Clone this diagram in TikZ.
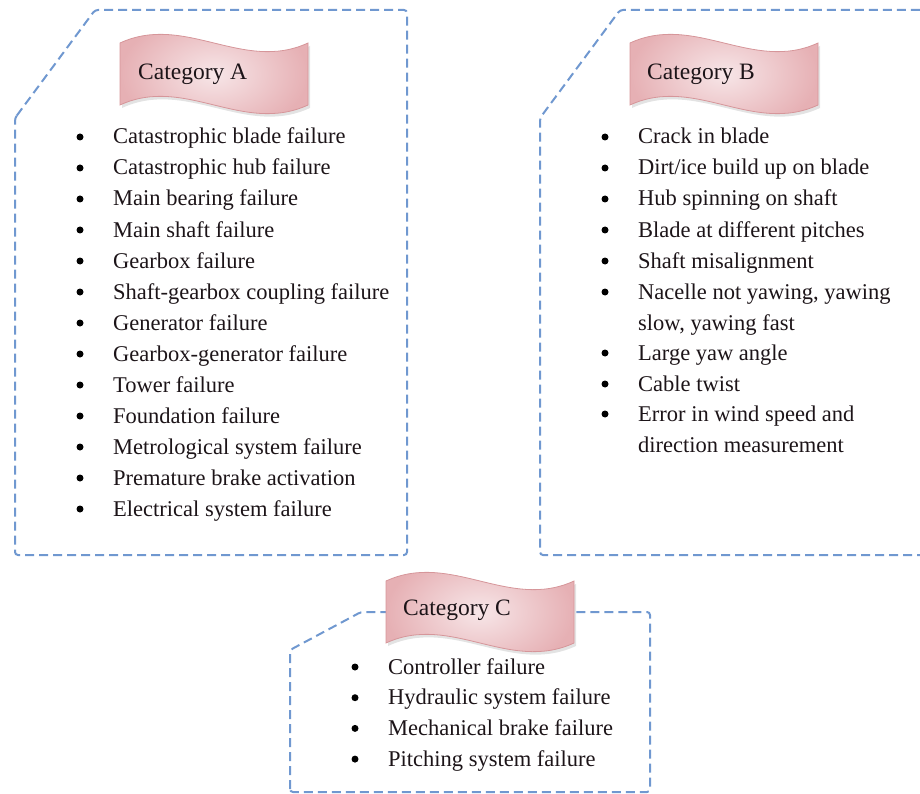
\documentclass[tikz,border=0pt]{standalone}
\usepackage{fontspec}
\setmainfont{Liberation Serif}
\usetikzlibrary{shadows}
\definecolor{framecol}{RGB}{112,152,208}
\definecolor{bannerlight}{RGB}{247,230,232}
\definecolor{bannerdark}{RGB}{230,176,180}
\definecolor{bannerline}{RGB}{214,150,154}
\definecolor{textcol}{RGB}{28,20,24}
\begin{document}
\begin{tikzpicture}[x=1pt,y=-1pt,
  frame/.style={draw=framecol, line width=2pt, dash pattern=on 9pt off 5pt, rounded corners=3pt},
  itemtext/.style={anchor=base west, inner sep=0pt, font=\fontsize{22.5}{26}\selectfont, text=textcol},
  bulletmark/.style={circle, fill=black, inner sep=0pt, minimum size=7pt},
  bannertext/.style={anchor=base west, inner sep=0pt, font=\fontsize{23.5}{27}\selectfont, text=textcol},
  bannerfill/.style={draw=bannerline, line width=0.8pt, shading=radial, inner color=bannerlight, outer color=bannerdark,
    drop shadow={opacity=0.22, shadow xshift=2pt, shadow yshift=-3pt}},
  pics/banner/.style={code={
    \path[bannerfill] (0,5) .. controls (65,-25) and (123,35) .. (188,5)
      -- (188,67) .. controls (123,97) and (65,37) .. (0,67) -- cycle;
  }}]
\useasboundingbox (0,0) rectangle (920,794);
\clip (0,0) rectangle (920,794);

% dashed frames
\draw[frame] (15,118) -- (95,10) -- (407,10) -- (407,555) -- (15,555) -- cycle;
\draw[frame] (940,555) -- (540,555) -- (540,118) -- (620,10) -- (940,10);
\draw[frame] (290,792) -- (290,650) -- (361,612) -- (650,612) -- (650,792) -- cycle;

% wave banners
\pic at (120,38) {banner};
\pic at (630,38) {banner};
\pic at (386,576) {banner};
\node[bannertext] (catA) at (138,80) {Category A};
\node[bannertext] (catB) at (647,80) {Category B};
\node[bannertext] (catC) at (403,615) {Category C};

% Category A list
\foreach \txt [count=\i] in {Catastrophic blade failure, Catastrophic hub failure,
    Main bearing failure, Main shaft failure, Gearbox failure,
    Shaft-gearbox coupling failure, Generator failure, Gearbox-generator failure,
    Tower failure, Foundation failure, Metrological system failure,
    Premature brake activation, Electrical system failure} {
  \node[bulletmark] (ba\i) at (80,137+31*\i-31) {};
  \node[itemtext] (a\i) at (113,144+31*\i-31) {\txt};
}

% Category B list
\node[bulletmark] (bb1) at (605,137) {};
\node[itemtext] (b1) at (638,144) {Crack in blade};
\node[bulletmark] (bb2) at (605,168) {};
\node[itemtext] (b2) at (638,175) {Dirt/ice build up on blade};
\node[bulletmark] (bb3) at (605,199) {};
\node[itemtext] (b3) at (638,206) {Hub spinning on shaft};
\node[bulletmark] (bb4) at (605,230) {};
\node[itemtext] (b4) at (638,237) {Blade at different pitches};
\node[bulletmark] (bb5) at (605,261) {};
\node[itemtext] (b5) at (638,268) {Shaft misalignment};
\node[bulletmark] (bb6) at (605,292) {};
\node[itemtext] (b6) at (638,299) {Nacelle not yawing, yawing};
\node[itemtext] (b6b) at (638,330) {slow, yawing fast};
\node[bulletmark] (bb7) at (605,353) {};
\node[itemtext] (b7) at (638,360) {Large yaw angle};
\node[bulletmark] (bb8) at (605,384) {};
\node[itemtext] (b8) at (638,391) {Cable twist};
\node[bulletmark] (bb9) at (605,414) {};
\node[itemtext] (b9) at (638,421) {Error in wind speed and};
\node[itemtext] (b9b) at (638,452) {direction measurement};

% Category C list
\foreach \txt [count=\i] in {Controller failure, Hydraulic system failure,
    Mechanical brake failure, Pitching system failure} {
  \node[bulletmark] (bc\i) at (355,667+30.7*\i-30.7) {};
  \node[itemtext] (c\i) at (388,674+30.7*\i-30.7) {\txt};
}
\end{tikzpicture}
\end{document}
